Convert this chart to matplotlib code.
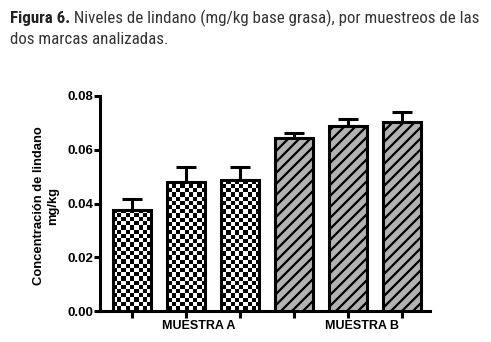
import numpy as np
import matplotlib
matplotlib.use("Agg")
import matplotlib.pyplot as plt
from matplotlib.collections import LineCollection
from matplotlib import font_manager

# ---- data ----
categories = ["A1", "A2", "A3", "B1", "B2", "B3"]
means = [0.0376, 0.0479, 0.0487, 0.0645, 0.0688, 0.0702]
errs = [0.0040, 0.0056, 0.0050, 0.0016, 0.0025, 0.0038]
groups = ["A", "A", "A", "B", "B", "B"]
group_labels = ["MUESTRA A", "MUESTRA B"]
group_label_pos = [1.23, 4.26]
yticks = [0.00, 0.02, 0.04, 0.06, 0.08]
title_bold = "Figura 6."
title_rest = " Niveles de lindano (mg/kg base grasa), por muestreos de las"
title_line2 = "dos marcas analizadas."
ylabel = "Concentración de lindano\nmg/kg"

W, H = 491, 342
DPI = 100
fig = plt.figure(figsize=(W / DPI, H / DPI), dpi=DPI)

names = {f.name for f in font_manager.fontManager.ttflist}
tfam = [n for n in ["Liberation Sans Narrow", "Roboto Condensed", "Roboto"] if n in names][:1] + ["DejaVu Sans"]
sans = ["Liberation Sans", "DejaVu Sans"]

ax_left, ax_right, ax_top, ax_bottom = 100, 430, 96, 311
ax = fig.add_axes([ax_left / W, 1 - ax_bottom / H, (ax_right - ax_left) / W, (ax_bottom - ax_top) / H])
axw, axh = ax_right - ax_left, ax_bottom - ax_top

x = np.arange(len(categories))
lw = 2.2

# error bars (upper only)
ax.errorbar(x, means, yerr=[np.zeros(len(errs)), errs], fmt="none", ecolor="black",
            elinewidth=lw, capsize=7.5, capthick=lw, zorder=2)

face = ["white" if g == "A" else "#b2b2b2" for g in groups]
bars = ax.bar(x, means, width=0.71, color=face, edgecolor="none", zorder=3)

# checkerboard pattern for group A
cell = 4.2
nx, ny = int(np.ceil(axw / cell)), int(np.ceil(axh / cell))
chk = (np.add.outer(np.arange(ny), np.arange(nx)) % 2).astype(float)
ext_x = nx * cell / axw
ext_y = ny * cell / axh
for b, g in zip(bars, groups):
    if g == "A":
        im = ax.imshow(chk, cmap="gray", interpolation="nearest", aspect="auto",
                       extent=(0, ext_x, 1 - ext_y, 1), transform=ax.transAxes, zorder=4)
        im.set_clip_path(b)

# diagonal stripes for group B
sp = 11.0
segs = []
for k in np.arange(-axh, axw + axh, sp):
    segs.append([(k / axw, 0), ((k + axh) / axw, 1)])
for b, g in zip(bars, groups):
    if g == "B":
        lc = LineCollection(segs, colors="black", linewidths=1.6, transform=ax.transAxes, zorder=4)
        ax.add_collection(lc)
        lc.set_clip_path(b)

ax.bar(x, means, width=0.71, fill=False, edgecolor="black", linewidth=lw, zorder=5)

ax.set_xlim(-0.59, 5.52)
ax.set_ylim(0, 0.08)
ax.set_yticks(yticks)
ax.set_yticklabels([f"{v:.2f}" for v in yticks], fontfamily=sans, fontweight="bold", fontsize=9.5)
ax.set_xticks(x)
ax.set_xticklabels([""] * len(x))
ax.tick_params(axis="y", length=4, width=lw, pad=1)
ax.tick_params(axis="x", length=5, width=lw)
for s in ["top", "right"]:
    ax.spines[s].set_visible(False)
for s in ["left", "bottom"]:
    ax.spines[s].set_linewidth(lw)
ax.spines["left"].set_capstyle("projecting")

for lab, pos in zip(group_labels, group_label_pos):
    ax.text(pos, -0.0035, lab, ha="center", va="top", fontfamily=sans, fontweight="bold",
            fontsize=9, transform=ax.transData)

fig.text(46 / W, 1 - 206 / H, ylabel, rotation=90, ha="center", va="center",
         multialignment="center", fontfamily=sans, fontweight="bold", fontsize=9.4)

# title (sized so that line 1 spans the reference width)
tcol = "#333333"
tsize = 11
t1 = fig.text(10 / W, 1 - 23.5 / H, title_bold, fontfamily=tfam, fontweight="bold",
              fontsize=tsize, color="#222222", va="baseline", ha="left")
fig.canvas.draw()
bb = t1.get_window_extent()
t2 = fig.text(bb.x1 / W, 1 - 23.5 / H, title_rest, fontfamily=tfam, fontsize=tsize,
              color=tcol, va="baseline", ha="left")
fig.canvas.draw()
bb2 = t2.get_window_extent()
f = (477 - bb.x0) / (bb2.x1 - bb.x0)
tsize = min(tsize * f, 12.5)
t1.set_fontsize(tsize)
fig.canvas.draw()
bb = t1.get_window_extent()
t2.set_fontsize(tsize)
t2.set_x(bb.x1 / W)
fig.text(10 / W, 1 - 43.5 / H, title_line2, fontfamily=tfam, fontsize=tsize,
         color=tcol, va="baseline", ha="left")

fig.savefig("out.png", dpi=DPI)
